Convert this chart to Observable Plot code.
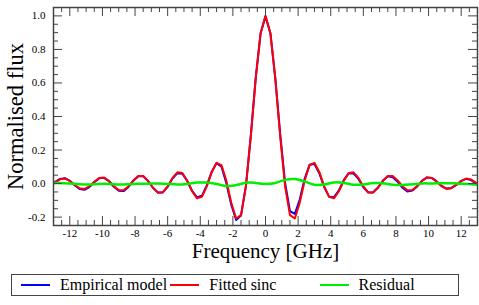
<!DOCTYPE html>
<html>
<head>
<meta charset="utf-8">
<script src="https://cdn.jsdelivr.net/npm/d3@7"></script>
<script src="https://cdn.jsdelivr.net/npm/@observablehq/plot@0.6"></script>
<style>
  body { margin: 0; background: #fff; font-family: "Liberation Serif", "Times New Roman", Times, serif; }
  #wrap { position: relative; width: 479px; height: 305px; }
  #legend { position: absolute; left: 11px; top: 274px; width: 446px; height: 20px; border: 1px solid #444; box-sizing: content-box; }
  .item { position: absolute; top: 0; height: 20px; display: flex; align-items: center; font-size: 16px; white-space: nowrap; }
  .swatch { display: inline-block; width: 29px; height: 2px; margin-right: 10px; }
  svg text { font-family: "Liberation Serif", "Times New Roman", Times, serif; }
</style>
</head>
<body>
<div id="wrap"><div id="chart"></div><div id="legend"></div></div>
<script>
// Frequency grid [GHz]
const freq = [-13.2,-12.9,-12.6,-12.3,-12.0,-11.7,-11.4,-11.1,-10.8,-10.5,-10.2,-9.9,-9.6,-9.3,-9.0,-8.7,-8.4,-8.1,-7.8,-7.5,-7.2,-6.9,-6.6,-6.3,-6.0,-5.7,-5.4,-5.1,-4.8,-4.5,-4.2,-3.9,-3.6,-3.3,-3.0,-2.7,-2.4,-2.1,-1.8,-1.5,-1.2,-0.9,-0.6,-0.3,0,0.3,0.6,0.9,1.2,1.5,1.8,2.1,2.4,2.7,3.0,3.3,3.6,3.9,4.2,4.5,4.8,5.1,5.4,5.7,6.0,6.3,6.6,6.9,7.2,7.5,7.8,8.1,8.4,8.7,9.0,9.3,9.6,9.9,10.2,10.5,10.8,11.1,11.4,11.7,12.0,12.3,12.6,12.9,13.2];

// Fitted sinc (red)
const fittedSinc = [-0.016,0.006,0.025,0.030,0.016,-0.008,-0.028,-0.032,-0.016,0.011,0.033,0.036,0.016,-0.015,-0.038,-0.040,-0.016,0.019,0.045,0.045,0.016,-0.025,-0.054,-0.052,-0.017,0.034,0.067,0.063,0.017,-0.046,-0.088,-0.079,-0.017,0.068,0.124,0.110,0.017,-0.114,-0.208,-0.188,-0.017,0.283,0.626,0.897,1.000,0.897,0.626,0.283,-0.017,-0.188,-0.208,-0.114,0.017,0.110,0.124,0.068,-0.017,-0.079,-0.088,-0.046,0.017,0.063,0.067,0.034,-0.017,-0.052,-0.054,-0.025,0.016,0.045,0.045,0.019,-0.016,-0.040,-0.038,-0.015,0.016,0.036,0.033,0.011,-0.016,-0.032,-0.028,-0.008,0.016,0.030,0.025,0.006,-0.016];

// Empirical model (blue)
const empiricalModel = [-0.012,0.010,0.028,0.032,0.016,-0.010,-0.032,-0.037,-0.021,0.008,0.031,0.034,0.014,-0.019,-0.043,-0.045,-0.020,0.017,0.044,0.044,0.015,-0.025,-0.053,-0.053,-0.019,0.030,0.062,0.059,0.015,-0.044,-0.082,-0.073,-0.011,0.070,0.122,0.101,0.002,-0.126,-0.217,-0.190,-0.012,0.287,0.630,0.897,0.997,0.897,0.630,0.296,0.005,-0.164,-0.181,-0.095,0.029,0.112,0.117,0.062,-0.022,-0.078,-0.081,-0.041,0.021,0.061,0.060,0.028,-0.022,-0.053,-0.051,-0.023,0.018,0.043,0.038,0.011,-0.025,-0.047,-0.042,-0.017,0.017,0.037,0.034,0.013,-0.014,-0.030,-0.026,-0.008,0.015,0.028,0.021,0.001,-0.022];

// Residual (green)
const residFreq = [-13.2,-12.6,-12.0,-11.4,-10.8,-10.2,-9.6,-9.0,-8.4,-7.8,-7.2,-6.6,-6.0,-5.4,-4.8,-4.2,-3.6,-3.0,-2.4,-1.8,-1.2,-0.6,0,0.6,1.2,1.8,2.4,3.0,3.6,4.2,4.8,5.4,6.0,6.6,7.2,7.8,8.4,9.0,9.6,10.2,10.8,11.4,12.0,12.6,13.2];
const residual = [0.004,0.003,0.000,-0.004,-0.005,-0.002,-0.002,-0.005,-0.004,-0.001,-0.001,0.001,-0.002,-0.005,-0.002,0.006,0.006,-0.002,-0.015,-0.009,0.005,0.004,-0.003,0.004,0.022,0.027,0.012,-0.007,-0.005,0.007,0.004,-0.007,-0.005,0.003,0.002,-0.007,-0.009,-0.004,0.001,0.001,0.002,0.002,-0.001,-0.004,-0.006];

// Ticks
const xMajorTicks = [-12,-10,-8,-6,-4,-2,0,2,4,6,8,10,12];
const xMinorTicks = [-12.5,-11.5,-11,-10.5,-9.5,-9,-8.5,-7.5,-7,-6.5,-5.5,-5,-4.5,-3.5,-3,-2.5,-1.5,-1,-0.5,0.5,1,1.5,2.5,3,3.5,4.5,5,5.5,6.5,7,7.5,8.5,9,9.5,10.5,11,11.5,12.5];
const yMajorTicks = [-0.2,0,0.2,0.4,0.6,0.8,1.0];
const yMinorTicks = [-0.15,-0.1,-0.05,0.05,0.1,0.15,0.25,0.3,0.35,0.45,0.5,0.55,0.65,0.7,0.75,0.85,0.9,0.95,1.05];

const seriesNames = ["Empirical model", "Fitted sinc", "Residual"];
const seriesColors = ["#0000ff", "#ff0000", "#00ee00"];

const W = 479, H = 266, mT = 7, mB = 41, mL = 53, mR = 2;
const innerH = H - mT - mB, innerW = W - mL - mR;
const serif = "'Liberation Serif', 'Times New Roman', Times, serif";

const sincTable = freq.map((f, i) => ({f, emp: empiricalModel[i], fit: fittedSinc[i]}));
const residTable = residFreq.map((f, i) => ({f, r: residual[i]}));

const tickColor = "#444";
const chart = Plot.plot({
  width: W, height: H,
  marginTop: mT, marginBottom: mB, marginLeft: mL, marginRight: mR,
  style: {fontFamily: serif, background: "#fff", color: "#000", overflow: "visible"},
  x: {domain: [-13, 13]},
  y: {domain: [-0.25, 1.05]},
  marks: [
    Plot.line(sincTable, {x: "f", y: "emp", stroke: seriesColors[0], strokeWidth: 2, clip: true}),
    Plot.line(sincTable, {x: "f", y: "fit", stroke: seriesColors[1], strokeWidth: 2, clip: true}),
    Plot.line(residTable, {x: "f", y: "r", stroke: seriesColors[2], strokeWidth: 2.5, curve: "catmull-rom", clip: true}),
    // inward ticks bottom/top
    Plot.ruleX(xMajorTicks, {x: d => d, insetTop: innerH - 9, stroke: tickColor}),
    Plot.ruleX(xMajorTicks, {x: d => d, insetBottom: innerH - 9, stroke: tickColor}),
    Plot.ruleX(xMinorTicks, {x: d => d, insetTop: innerH - 5, stroke: tickColor}),
    Plot.ruleX(xMinorTicks, {x: d => d, insetBottom: innerH - 5, stroke: tickColor}),
    // inward ticks left/right
    Plot.ruleY(yMajorTicks, {y: d => d, insetRight: innerW - 9, stroke: tickColor}),
    Plot.ruleY(yMajorTicks, {y: d => d, insetLeft: innerW - 9, stroke: tickColor}),
    Plot.ruleY(yMinorTicks, {y: d => d, insetRight: innerW - 5, stroke: tickColor}),
    Plot.ruleY(yMinorTicks, {y: d => d, insetLeft: innerW - 5, stroke: tickColor}),
    Plot.axisX({ticks: xMajorTicks, tickSize: 0, tickPadding: 4, fontSize: 11, fontFamily: serif, label: null, tickFormat: d => String(d)}),
    Plot.axisY({ticks: yMajorTicks, tickSize: 0, tickPadding: 8, fontSize: 11, fontFamily: serif, label: null, tickFormat: d => d.toFixed(1)}),
    Plot.frame({stroke: "#444", strokeWidth: 1.5}),
    Plot.text(["Frequency [GHz]"], {frameAnchor: "bottom", dy: 32, fontSize: 21, fontFamily: serif, textAnchor: "middle", lineAnchor: "bottom", fill: "#000"}),
    Plot.text(["Normalised flux"], {frameAnchor: "left", dx: -38, rotate: -90, fontSize: 22.5, fontFamily: serif, textAnchor: "middle", lineAnchor: "middle", fill: "#000"})
  ]
});
document.getElementById("chart").appendChild(chart);

const legend = document.getElementById("legend");
seriesNames.forEach((name, i) => {
  const item = document.createElement("div");
  item.className = "item";
  item.style.left = (9 + i * 149.3) + "px";
  const sw = document.createElement("span");
  sw.className = "swatch";
  sw.style.background = seriesColors[i];
  item.appendChild(sw);
  item.appendChild(document.createTextNode(name));
  legend.appendChild(item);
});
</script>
</body>
</html>
